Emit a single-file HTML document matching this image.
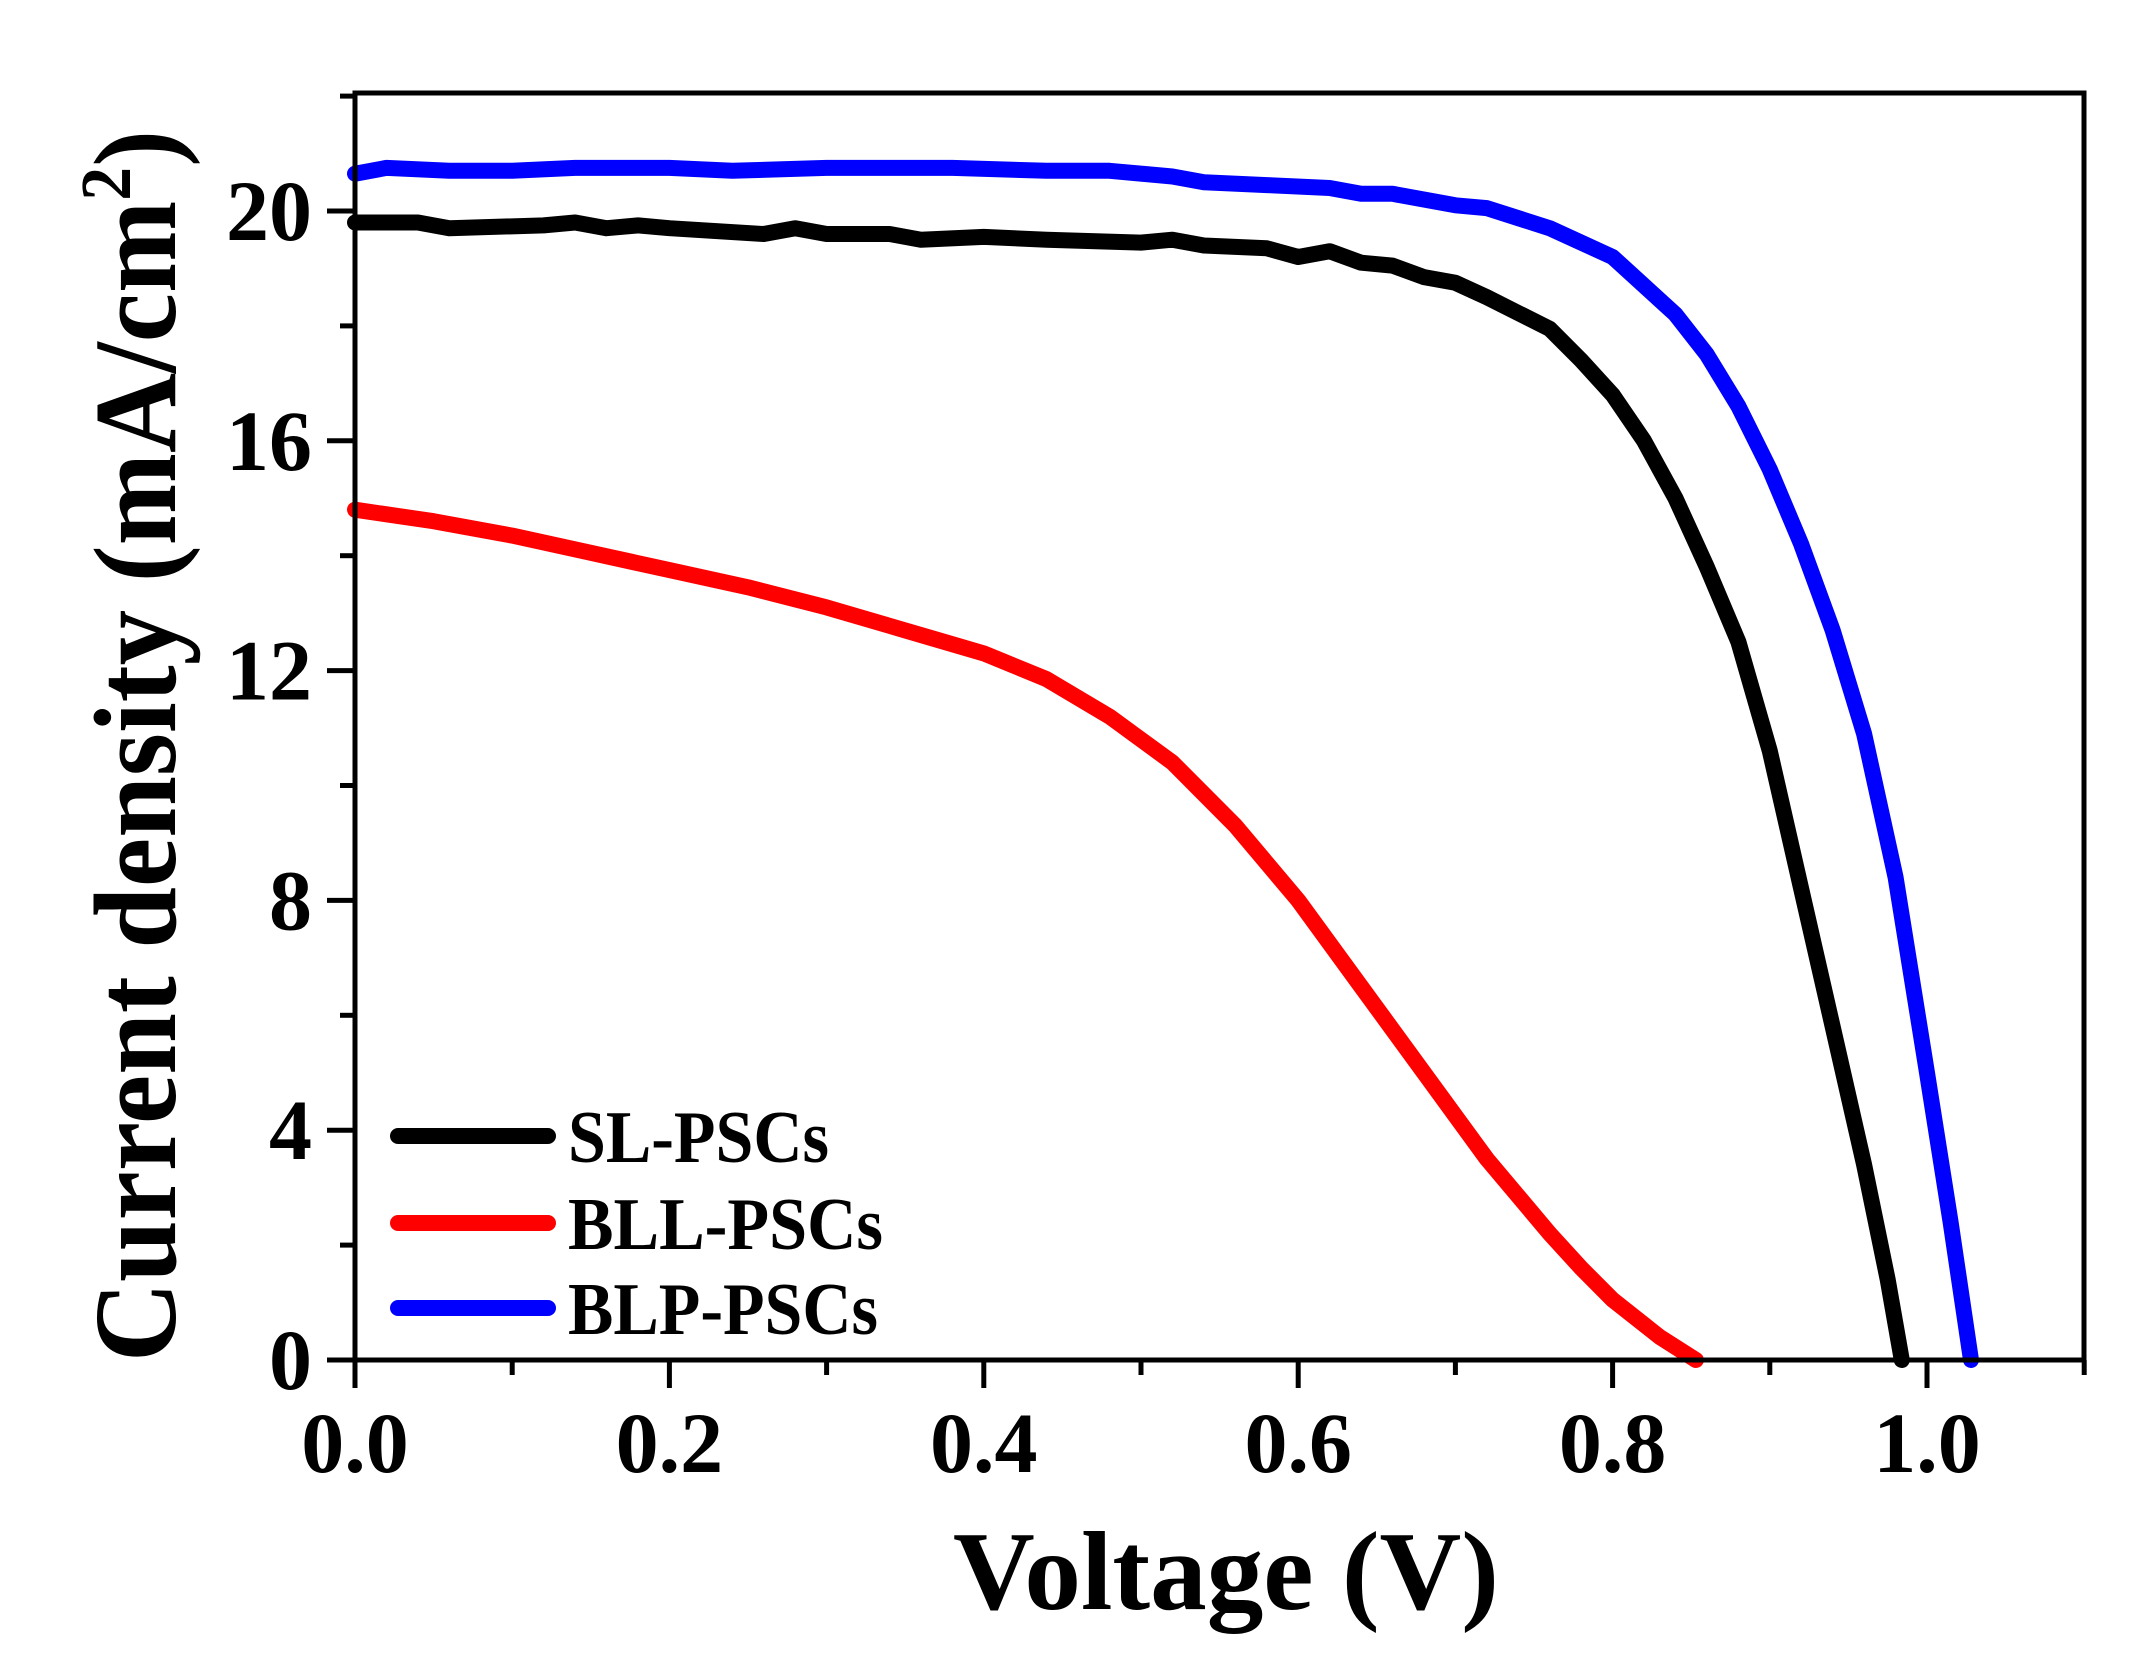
<!DOCTYPE html>
<html><head><meta charset="utf-8"><style>
html,body{margin:0;padding:0;background:#fff;width:2146px;height:1671px;overflow:hidden}
svg{display:block}
text{font-family:"Liberation Serif",serif;font-weight:bold;fill:#000}
</style></head><body>
<svg id="s" width="2146" height="1671" viewBox="0 0 2146 1671" xmlns="http://www.w3.org/2000/svg">
<g id="series" fill="none" stroke-linejoin="round" stroke-linecap="round" stroke-width="16"></g>
<rect x="355" y="93" width="1729" height="1267" fill="none" stroke="#000" stroke-width="5"/>
<g id="ticks" stroke="#000" stroke-width="5"></g>
<g id="labels" font-size="86"></g>
<text x="1226" y="1609" font-size="112" text-anchor="middle" textLength="546" lengthAdjust="spacingAndGlyphs">Voltage (V)</text>
<text transform="translate(175,746) rotate(-90)" font-size="118" text-anchor="middle" textLength="1232" lengthAdjust="spacingAndGlyphs">Current density (mA/cm<tspan dy="-45" font-size="72">2</tspan><tspan dy="45">)</tspan></text>
<g stroke-width="16" stroke-linecap="round">
<line x1="398" y1="1136" x2="548" y2="1136" stroke="#000"/>
<line x1="398" y1="1223" x2="548" y2="1223" stroke="#f00"/>
<line x1="398" y1="1308" x2="548" y2="1308" stroke="#00f"/>
</g>
<g font-size="74">
<text x="568" y="1162" textLength="261" lengthAdjust="spacingAndGlyphs">SL-PSCs</text>
<text x="568" y="1249" textLength="315" lengthAdjust="spacingAndGlyphs">BLL-PSCs</text>
<text x="568" y="1334" textLength="310" lengthAdjust="spacingAndGlyphs">BLP-PSCs</text>
</g>
</svg>
<script>
var X=function(v){return 355+v*1572;},Y=function(j){return 1360-j*57.45;};
var NS="http://www.w3.org/2000/svg";
var t=document.getElementById('ticks'),l=document.getElementById('labels');
function ln(x1,y1,x2,y2){var e=document.createElementNS(NS,'line');e.setAttribute('x1',x1);e.setAttribute('y1',y1);e.setAttribute('x2',x2);e.setAttribute('y2',y2);t.appendChild(e);}
function tx(x,y,s,a){var e=document.createElementNS(NS,'text');e.setAttribute('x',x);e.setAttribute('y',y);e.setAttribute('text-anchor',a);e.textContent=s;l.appendChild(e);}
for(var i=0;i<=11;i++){var x=X(i/10);ln(x,1360,x,1360+(i%2?15:28));if(i%2==0&&i<=10)tx(x,1472,(i/10).toFixed(1),'middle');}
for(var j=0;j<=22;j+=2){var y=Y(j);ln(355,y,355-(j%4?15:28),y);if(j%4==0)tx(312,y+29,String(j),'end');}
var data={
'#000':[[0,19.8],[0.04,19.8],[0.06,19.7],[0.12,19.75],[0.14,19.8],[0.16,19.7],[0.18,19.75],[0.2,19.7],[0.26,19.6],[0.28,19.7],[0.3,19.6],[0.34,19.6],[0.36,19.5],[0.4,19.55],[0.44,19.5],[0.5,19.45],[0.52,19.5],[0.54,19.4],[0.58,19.35],[0.6,19.2],[0.62,19.3],[0.64,19.1],[0.66,19.05],[0.68,18.85],[0.7,18.75],[0.72,18.5],[0.76,17.95],[0.78,17.4],[0.8,16.8],[0.82,16.0],[0.84,15.0],[0.86,13.8],[0.88,12.5],[0.9,10.6],[0.92,8.2],[0.94,5.8],[0.96,3.4],[0.975,1.4],[0.984,0]],
'#f00':[[0,14.8],[0.05,14.6],[0.1,14.35],[0.15,14.05],[0.2,13.75],[0.25,13.45],[0.3,13.1],[0.35,12.7],[0.4,12.3],[0.44,11.85],[0.48,11.2],[0.52,10.4],[0.56,9.3],[0.6,8.0],[0.64,6.5],[0.68,5.0],[0.72,3.5],[0.76,2.2],[0.78,1.6],[0.8,1.05],[0.83,0.4],[0.853,0]],
'#00f':[[0,20.65],[0.02,20.75],[0.06,20.7],[0.1,20.7],[0.14,20.75],[0.2,20.75],[0.24,20.7],[0.3,20.75],[0.38,20.75],[0.44,20.7],[0.48,20.7],[0.52,20.6],[0.54,20.5],[0.58,20.45],[0.62,20.4],[0.64,20.3],[0.66,20.3],[0.7,20.1],[0.72,20.05],[0.76,19.7],[0.8,19.2],[0.84,18.2],[0.86,17.5],[0.88,16.6],[0.9,15.5],[0.92,14.2],[0.94,12.7],[0.96,10.9],[0.98,8.4],[1.0,5.0],[1.015,2.4],[1.028,0]]};
var g=document.getElementById('series');
for(var c in data){var p=document.createElementNS(NS,'polyline');p.setAttribute('points',data[c].map(function(d){return X(d[0]).toFixed(1)+','+Y(d[1]).toFixed(1);}).join(' '));p.setAttribute('stroke',c);g.appendChild(p);}
</script>
</body></html>
